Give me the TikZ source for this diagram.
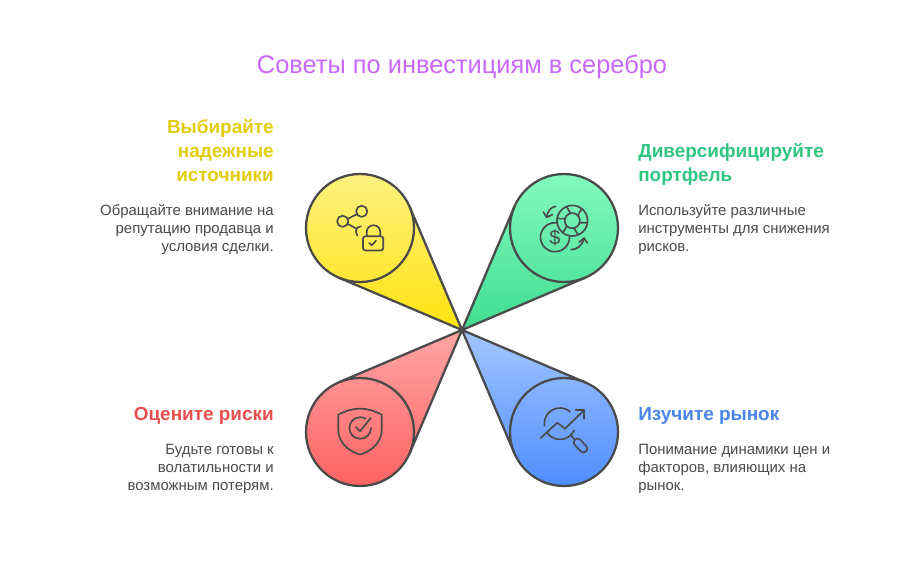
\documentclass[tikz,border=0pt]{standalone}
\usepackage{fontspec}
\setmainfont{Liberation Sans}
\usetikzlibrary{calc}
\definecolor{ink}{HTML}{4A4A4A}
\definecolor{titlec}{HTML}{C968FF}
\definecolor{ytop}{HTML}{FFF285}\definecolor{ybot}{HTML}{FFE30F}\definecolor{yhead}{HTML}{E2CC0B}
\definecolor{gtop}{HTML}{86FBC0}\definecolor{gbot}{HTML}{3FDD92}\definecolor{ghead}{HTML}{2FC681}
\definecolor{rtop}{HTML}{FFA6A6}\definecolor{rbot}{HTML}{FF5F5F}\definecolor{rhead}{HTML}{E8504F}
\definecolor{btop}{HTML}{A3C6FF}\definecolor{bbot}{HTML}{4B8BFF}\definecolor{bhead}{HTML}{4A86E8}
\tikzset{
  outline/.style={draw=ink,line width=1.7pt},
  disc/.style={circle,outline,minimum size=81pt,inner sep=0pt,outer sep=0pt},
  icon/.style={draw=ink,line width=1.25pt,line cap=round,line join=round},
  heading/.style={font=\fontsize{14.2}{18}\selectfont\bfseries,inner sep=0pt},
  bodytext/.style={text=ink,font=\fontsize{11.2}{13.5}\selectfont,inner sep=0pt},
  leftblock/.style={anchor=north east,align=right},
  rightblock/.style={anchor=north west,align=left},
}
% name, centre x, centre y, direction to apex, top colour, bottom colour
\newcommand{\petal}[6]{%
  \pgfmathsetmacro{\pa}{#4+68}\pgfmathsetmacro{\pb}{#4-68+360}%
  \shade[top color=#5,bottom color=#6,shading angle=0] (apex) -- ($(#2,#3)+(\pa:54)$) arc[start angle=\pa,end angle=\pb,radius=54] -- cycle;
  \node[disc] (#1) at (#2,#3) {};
  \draw[outline] (apex) -- (tangent cs:node=#1,point={(apex)},solution=1);
  \draw[outline] (apex) -- (tangent cs:node=#1,point={(apex)},solution=2);
}
\begin{document}
\begin{tikzpicture}[x=0.75pt,y=-0.75pt]
\useasboundingbox (0,0) rectangle (924,564);
\fill[white] (0,0) rectangle (924,564);
\coordinate (apex) at (462,330);
\petal{yc}{360}{228}{45}{ytop}{ybot}
\petal{gc}{564}{228}{135}{gtop}{gbot}
\petal{rc}{360}{432}{-45}{rtop}{rbot}
\petal{bc}{564}{432}{225}{btop}{bbot}

% yellow icon
\draw[icon] (361.7,211.3) circle[radius=5.6];
\draw[icon] (342.7,221.3) circle[radius=5.6];
\draw[icon] (348,218.7) -- (356.7,214.3);
\draw[icon] (348,224) -- (356,228.5);
\draw[icon] (361,226.3) .. controls (358,226.5) and (356,228) .. (356,230.5) .. controls (356,232.5) and (356.5,234) .. (357.3,235.5);
\draw[icon,rounded corners=1.8pt] (363,236.3) rectangle (383.3,250.5);
\draw[icon] (366.7,236) -- (366.7,232) arc[start angle=180,end angle=360,radius=6.8] -- (380.3,236);
\draw[icon] (369.3,243) -- (371.7,245.3) -- (376,240.7);

% green icon
\draw[icon] (572.3,220.7) circle[radius=15.3];
\draw[icon] (572.3,220.7) circle[radius=7.6];
\foreach \a in {30,90,150,210,270,330}{
  \draw[icon] ($(572.3,220.7)+(\a-14:7.6)$) -- ($(572.3,220.7)+(\a-22:15.3)$);
}
\draw[icon] (569.4,235.7) arc[start angle=-6,end angle=279,radius=14.5];
\node[text=ink,font=\fontsize{15}{15}\selectfont,inner sep=0pt] (dollar) at (555,237.5) {\$};
\draw[icon] (571,249.7) .. controls (577,249.5) and (582,246) .. (584,238.5);
\draw[icon] (579.3,242) -- (584,238) -- (587.3,243);
\draw[icon] (555.7,206.3) .. controls (551,207) and (547.5,211) .. (546.7,217);
\draw[icon] (543.3,212) -- (546.7,217.3) -- (552.3,214.7);

% red icon
\draw[icon] (338.3,414.7) .. controls (345,411) and (352,408.7) .. (360,408.7) .. controls (368,408.7) and (375,411) .. (381.7,414.7) -- (381.7,430) .. controls (381.7,442) and (372,451) .. (360,454.7) .. controls (348,451) and (338.3,442) .. (338.3,430) -- cycle;
\draw[icon] (371,428) arc[start angle=0,end angle=300,radius=10.8];
\draw[icon] (356,427) -- (360,431.3) -- (370.7,418);

% blue icon
\draw[icon] ($(560,423.7)+(172:15.7)$) arc[start angle=172,end angle=310,radius=15.7];
\draw[icon] ($(560,423.7)+(146:15.7)$) arc[start angle=146,end angle=25,radius=15.7];
\draw[icon] (540.7,438) -- (557.3,422.7) -- (565,428.7) -- (584,410.3);
\draw[icon] (575.7,410.3) -- (584.3,410.3) -- (584.3,418.7);
\draw[icon] (571,435.3) -- (574.3,439.3);
\draw[icon,rounded corners=2.6pt,rotate around={-47:(580.5,445.5)}] (572.5,441.7) rectangle (588.5,449.3);

% texts
\node[text=titlec,font=\fontsize{19.05}{22}\selectfont,inner sep=0pt] (title) at (462,67) {Советы по инвестициям в серебро};

\node[heading,leftblock,text=yhead] (yh) at (274,119) {Выбирайте\\надежные\\источники};
\node[bodytext,leftblock] (yb) at (274,204) {Обращайте внимание на\\репутацию продавца и\\условия сделки.};
\node[heading,rightblock,text=ghead] (gh) at (638,143) {Диверсифицируйте\\портфель};
\node[bodytext,rightblock] (gb) at (638,204) {Используйте различные\\инструменты для снижения\\рисков.};
\node[heading,leftblock,text=rhead] (rh) at (274,407) {Оцените риски};
\node[bodytext,leftblock] (rb) at (274,444) {Будьте готовы к\\волатильности и\\возможным потерям.};
\node[heading,rightblock,text=bhead] (bh) at (638,407) {Изучите рынок};
\node[bodytext,rightblock] (bb) at (638,444) {Понимание динамики цен и\\факторов, влияющих на\\рынок.};
\end{tikzpicture}
\end{document}
